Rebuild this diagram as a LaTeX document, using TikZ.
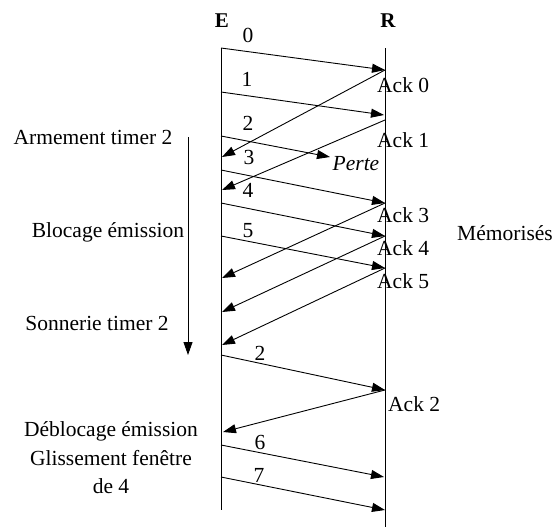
\documentclass[tikz,border=0pt]{standalone}
\usepackage{fontspec}
\setmainfont{Liberation Serif}
\usetikzlibrary{arrows.meta}
\begin{document}
\begin{tikzpicture}[x=1pt,y=-1pt,
  msg/.style={line width=0.9pt,-{Triangle[length=13pt,width=9pt]}},
  lbl/.style={font=\fontsize{21.5}{28.5}\selectfont, inner sep=0pt},
  lifeline/.style={line width=1pt}]
\useasboundingbox (0,0) rectangle (555,528);
% lifelines
\coordinate (Etop) at (221,48); \coordinate (Ebot) at (221,510);
\coordinate (Rtop) at (385,48); \coordinate (Rbot) at (385,527);
\draw[lifeline] (Etop) -- (Ebot);
\draw[lifeline] (Rtop) -- (Rbot);
\node[lbl,font=\fontsize{21}{25}\selectfont\bfseries] (E) at (222,21) {E};
\node[lbl,font=\fontsize{21}{25}\selectfont\bfseries] (R) at (388,21) {R};
% send points on E
\coordinate (s0) at (221,48);
\coordinate (s1) at (221,92);
\coordinate (s2) at (221,136);
\coordinate (s3) at (221,170);
\coordinate (s4) at (221,203);
\coordinate (s5) at (221,236);
\coordinate (s2b) at (221,355);
\coordinate (s6) at (221,445);
\coordinate (s7) at (221,477);
% receive points on R
\coordinate (r0) at (385,70);
\coordinate (r1) at (384,115);
\coordinate (lost) at (330,157);
\coordinate (r3) at (385,203);
\coordinate (r4) at (385,236);
\coordinate (r5) at (385,268);
\coordinate (r2b) at (385,390);
\coordinate (r6) at (384,477);
\coordinate (r7) at (385,510);
\coordinate (a1) at (385,120);
% ack arrivals on E
\coordinate (e0) at (222,157);
\coordinate (e1) at (222,190);
\coordinate (e3) at (222,278);
\coordinate (e4) at (222,312);
\coordinate (e5) at (222,345);
\coordinate (e2) at (223,432);
% data messages
\draw[msg] (s0) -- (r0);
\draw[msg] (s1) -- (r1);
\draw[msg] (s2) -- (lost);
\draw[msg] (s3) -- (r3);
\draw[msg] (s4) -- (r4);
\draw[msg] (s5) -- (r5);
\draw[msg] (s2b) -- (r2b);
\draw[msg] (s6) -- (r6);
\draw[msg] (s7) -- (r7);
% acks
\draw[msg] (r0) -- (e0);
\draw[msg] (a1) -- (e1);
\draw[msg] (r3) -- (e3);
\draw[msg] (r4) -- (e4);
\draw[msg] (r5) -- (e5);
\draw[msg] (r2b) -- (e2);
% message numbers
\node[lbl] (n0) at (248,35) {0};
\node[lbl] (n1) at (247,79) {1};
\node[lbl] (n2) at (248,123) {2};
\node[lbl] (n3) at (249,157) {3};
\node[lbl] (n4) at (248,190) {4};
\node[lbl] (n5) at (248,231) {5};
\node[lbl] (n2b) at (260,353) {2};
\node[lbl] (n6) at (260,442) {6};
\node[lbl] (n7) at (259,475) {7};
\node[lbl,font=\fontsize{21.5}{25}\selectfont\itshape] (perte) at (356,164) {Perte};
% ack labels
\node[lbl,anchor=west] (k0) at (377,85) {Ack 0};
\node[lbl,anchor=west] (k1) at (377,140) {Ack 1};
\node[lbl,anchor=west] (k3) at (377,215) {Ack 3};
\node[lbl,anchor=west] (k4) at (377,248) {Ack 4};
\node[lbl,anchor=west] (k5) at (377,281) {Ack 5};
\node[lbl,anchor=west] (k2) at (388,404) {Ack 2};
\node[lbl] (mem) at (505,233) {Mémorisés};
% left annotations
\node[lbl] (arm) at (93,137) {Armement timer 2};
\node[lbl] (blo) at (108,232) {Blocage émission};
\node[lbl] (son) at (97,323) {Sonnerie timer 2};
\node[lbl,align=center] (deb) at (111,458) {Déblocage émission\\Glissement fenêtre\\de 4};
\coordinate (t0) at (188,137);
\coordinate (t1) at (188,355);
\draw[msg] (t0) -- (t1);
\end{tikzpicture}
\end{document}
